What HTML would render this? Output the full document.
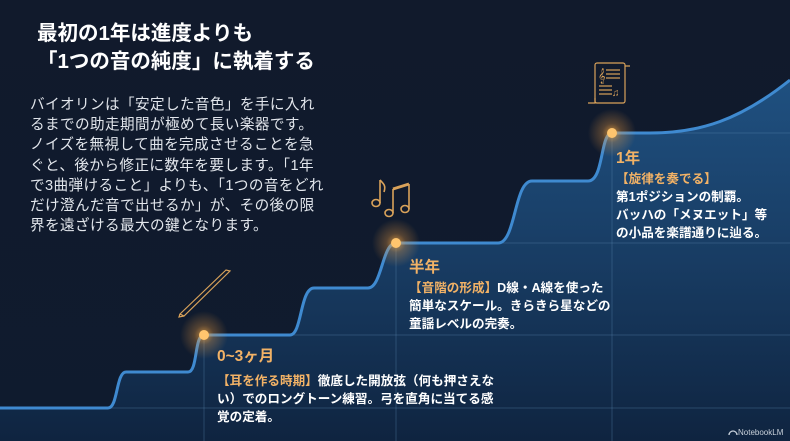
<!DOCTYPE html>
<html><head><meta charset="utf-8"><style>
html,body{margin:0;padding:0;width:790px;height:441px;overflow:hidden;background:#101a2b}
svg{display:block}
text{font-family:"Liberation Sans","Noto Sans CJK JP",sans-serif}
</style></head><body>
<svg width="790" height="441" viewBox="0 0 790 441" xmlns="http://www.w3.org/2000/svg">
<defs>
<linearGradient id="bg" x1="0" y1="0" x2="0" y2="1">
<stop offset="0" stop-color="#111a2c"/><stop offset="1" stop-color="#0f1b2e"/></linearGradient>
<linearGradient id="fill" x1="0" y1="0" x2="0" y2="1">
<stop offset="0" stop-color="#1f5080"/><stop offset="0.5" stop-color="#183c63"/><stop offset="1" stop-color="#0f2440"/></linearGradient>
<radialGradient id="glow"><stop offset="0" stop-color="#ffb347" stop-opacity="0.75"/><stop offset="0.4" stop-color="#f5a040" stop-opacity="0.3"/><stop offset="1" stop-color="#f5a040" stop-opacity="0"/></radialGradient>
</defs>
<rect width="790" height="441" fill="url(#bg)"/>
<path d="M0 408 L108 408 C118 408 116 372 126 372 L188 372 C198 372 194 335 204 335 L290 335 C302 335 300 288 314 288 L368 288 C382 288 382 243 396 243 L498 243 C516 243 514 181 532 181 L588 181 C604 181 600 133 612 133 L650 133 C700 133 740 120 790 80 L790 441 L0 441 Z" fill="url(#fill)"/>
<g stroke="#5a86b0" stroke-opacity="0.35" stroke-width="1">
<line x1="204" y1="335" x2="204" y2="441"/><line x1="396" y1="243" x2="396" y2="441"/><line x1="612" y1="133" x2="612" y2="441"/>
<line x1="204" y1="335" x2="790" y2="335"/><line x1="396" y1="243" x2="790" y2="243"/><line x1="612" y1="133" x2="790" y2="133"/>
<line x1="0" y1="408" x2="790" y2="408"/>
</g>
<path d="M0 408 L108 408 C118 408 116 372 126 372 L188 372 C198 372 194 335 204 335 L290 335 C302 335 300 288 314 288 L368 288 C382 288 382 243 396 243 L498 243 C516 243 514 181 532 181 L588 181 C604 181 600 133 612 133 L650 133 C700 133 740 120 790 80" fill="none" stroke="#3f8ad0" stroke-width="3"/>
<circle cx="204" cy="335" r="24" fill="url(#glow)"/><circle cx="204" cy="335" r="5" fill="#ffc56e"/>
<circle cx="396" cy="243" r="24" fill="url(#glow)"/><circle cx="396" cy="243" r="5" fill="#ffc56e"/>
<circle cx="612" cy="133" r="24" fill="url(#glow)"/><circle cx="612" cy="133" r="5" fill="#ffc56e"/>
<!-- bow -->
<path d="M180 314 L226 270 L230 271 L184 316 Z M180 314 L179 317 L184 316" fill="none" stroke="#d9a25a" stroke-width="1.2"/>
<!-- notes -->
<g fill="none" stroke="#d9a25a" stroke-width="1.6">
<ellipse cx="376" cy="203" rx="4" ry="3.5"/><line x1="380" y1="203" x2="380" y2="180"/><path d="M380 180 C384 184 386 186 384 192"/>
<ellipse cx="389" cy="213" rx="4" ry="3.5"/><ellipse cx="405" cy="209" rx="4" ry="3.5"/>
<line x1="393" y1="213" x2="393" y2="189"/><line x1="409" y1="209" x2="409" y2="184"/><line x1="393" y1="189" x2="409" y2="184" stroke-width="3"/>
</g>
<!-- scroll -->
<g fill="none" stroke="#d9a25a" stroke-width="1.2">
<rect x="595" y="63" width="30" height="40" rx="2"/><path d="M588 103 L595 103 L595 98 M625 66 L630 66"/>
<line x1="606" y1="70" x2="620" y2="70"/><line x1="606" y1="74" x2="620" y2="74"/><line x1="606" y1="78" x2="620" y2="78"/>
<line x1="599" y1="86" x2="612" y2="86"/><line x1="599" y1="90" x2="612" y2="90"/><line x1="599" y1="94" x2="612" y2="94"/>
<text x="598" y="80" fill="#d9a25a" stroke="none" font-size="13">𝄞</text><text x="612" y="96" fill="#d9a25a" stroke="none" font-size="10">♫</text>
</g>
<text fill="#ffffff" font-weight="bold" font-size="20.5"><tspan x="37" y="40">最初の1年は進度よりも</tspan><tspan x="37" y="68">「1つの音の純度」に執着する</tspan></text>
<text fill="#e2e6ec" font-size="14.6" letter-spacing="0.4">
<tspan x="30" y="109"> バイオリンは「安定した音色」を手に入れ</tspan>
<tspan x="30" y="129">るまでの助走期間が極めて長い楽器です。</tspan>
<tspan x="30" y="149">ノイズを無視して曲を完成させることを急</tspan>
<tspan x="30" y="170">ぐと、後から修正に数年を要します。「1年</tspan>
<tspan x="30" y="190">で3曲弾けること」よりも、「1つの音をどれ</tspan>
<tspan x="30" y="210">だけ澄んだ音で出せるか」が、その後の限</tspan>
<tspan x="30" y="230">界を遠ざける最大の鍵となります。</tspan>
</text>
<text x="217" y="361" fill="#f2b266" font-weight="bold" font-size="15.5">0~3ヶ月</text>
<text fill="#ffffff" font-weight="bold" font-size="12.6">
<tspan x="217" y="385"><tspan fill="#f2b266">【耳を作る時期】</tspan>徹底した開放弦（何も押さえな</tspan>
<tspan x="217" y="403">い）でのロングトーン練習。弓を直角に当てる感</tspan>
<tspan x="217" y="421">覚の定着。</tspan>
</text>
<text x="409" y="272" fill="#f2b266" font-weight="bold" font-size="15.5">半年</text>
<text fill="#ffffff" font-weight="bold" font-size="12.6">
<tspan x="409" y="292"><tspan fill="#f2b266">【音階の形成】</tspan>D線・A線を使った</tspan>
<tspan x="409" y="310">簡単なスケール。きらきら星などの</tspan>
<tspan x="409" y="328">童謡レベルの完奏。</tspan>
</text>
<text x="616" y="163" fill="#f2b266" font-weight="bold" font-size="15.5">1年</text>
<text fill="#ffffff" font-weight="bold" font-size="12.6">
<tspan x="616" y="183" fill="#f2b266">【旋律を奏でる】</tspan>
<tspan x="616" y="201">第1ポジションの制覇。</tspan>
<tspan x="616" y="219">バッハの「メヌエット」等</tspan>
<tspan x="616" y="237">の小品を楽譜通りに辿る。</tspan>
</text>
<text x="738" y="435" fill="#c8d0da" font-size="8">NotebookLM</text>
<path d="M729 435 a4 4 0 0 1 8 0" fill="none" stroke="#c8d0da" stroke-width="1.3"/>
</svg>
</body></html>
